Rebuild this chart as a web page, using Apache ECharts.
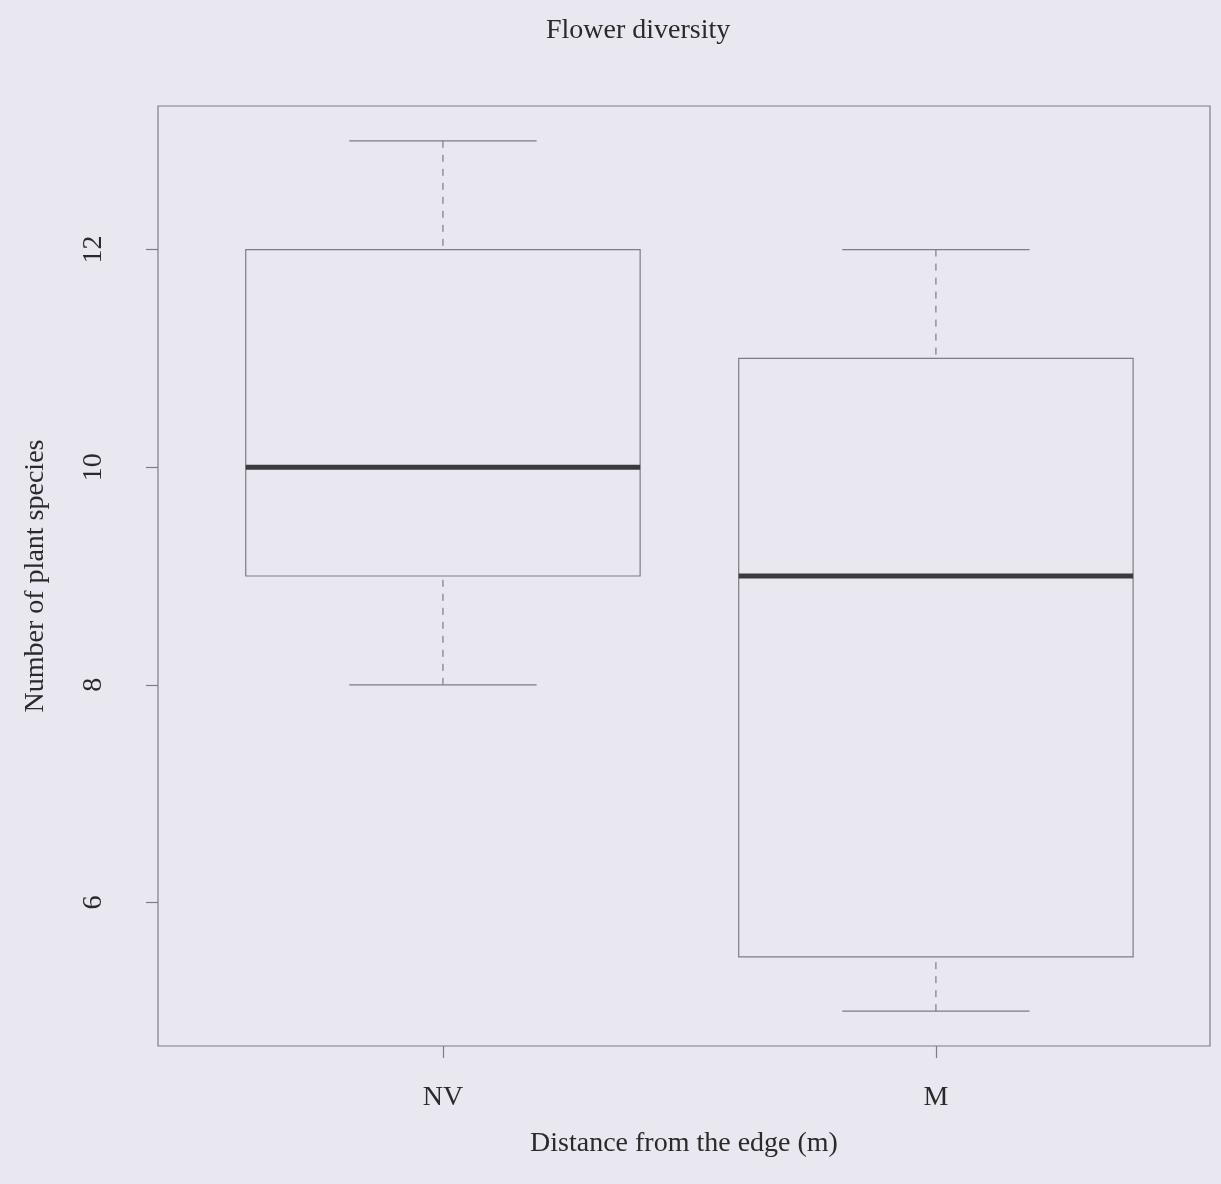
<!DOCTYPE html>
<html>
<head>
<meta charset="utf-8">
<script src="https://cdn.jsdelivr.net/npm/echarts@6/dist/echarts.min.js"></script>
<style>
  html, body { margin: 0; padding: 0; background: #e9e8f1; }
  #chart { width: 1221px; height: 1184px; }
</style>
</head>
<body>
<div id="chart"></div>
<script>
// Data
const categories = ['NV', 'M'];
const whiskerLow = [8, 5];
const q1 = [9, 5.5];
const median = [10, 9];
const q3 = [12, 11];
const whiskerHigh = [13, 12];
const yTicks = [6, 8, 10, 12];

const seriesData = categories.map((c, i) => [i + 1, whiskerLow[i], q1[i], median[i], q3[i], whiskerHigh[i]]);

const FONT = '"Liberation Serif", "DejaVu Serif", serif';
const LINE = '#7d7d85';
const TEXT = '#2a2a2a';
const BOX_HALF = 0.4;
const CAP_HALF = 0.19;

function renderItem(params, api) {
  const x = api.value(0);
  const lo = api.value(1), b1 = api.value(2), md = api.value(3), b3 = api.value(4), hi = api.value(5);
  const pL = api.coord([x - BOX_HALF, b3]);
  const pR = api.coord([x + BOX_HALF, b1]);
  const c = (v) => api.coord([x, v]);
  const capL = (v) => api.coord([x - CAP_HALF, v]);
  const capR = (v) => api.coord([x + CAP_HALF, v]);
  const thin = { stroke: LINE, lineWidth: 1.2, fill: null };
  const dashed = { stroke: LINE, lineWidth: 1.2, lineDash: [7, 7] };
  return {
    type: 'group',
    children: [
      { type: 'line', shape: { x1: c(hi)[0], y1: c(hi)[1], x2: c(b3)[0], y2: c(b3)[1] }, style: dashed },
      { type: 'line', shape: { x1: c(lo)[0], y1: c(lo)[1], x2: c(b1)[0], y2: c(b1)[1] }, style: dashed },
      { type: 'line', shape: { x1: capL(hi)[0], y1: capL(hi)[1], x2: capR(hi)[0], y2: capR(hi)[1] }, style: thin },
      { type: 'line', shape: { x1: capL(lo)[0], y1: capL(lo)[1], x2: capR(lo)[0], y2: capR(lo)[1] }, style: thin },
      { type: 'rect', shape: { x: pL[0], y: pL[1], width: pR[0] - pL[0], height: pR[1] - pL[1] }, style: { stroke: LINE, lineWidth: 1.2, fill: 'rgba(0,0,0,0)' } },
      { type: 'line', shape: { x1: api.coord([x - BOX_HALF, md])[0], y1: c(md)[1], x2: api.coord([x + BOX_HALF, md])[0], y2: c(md)[1] }, style: { stroke: '#3a3a3e', lineWidth: 5 } }
    ]
  };
}

const chart = echarts.init(document.getElementById('chart'), null, { renderer: 'canvas' });
chart.setOption({
  backgroundColor: '#e9e8f1',
  animation: false,
  title: {
    text: 'Flower diversity',
    left: 541,
    top: 12,
    textStyle: { fontFamily: FONT, fontSize: 28, fontWeight: 'normal', color: TEXT }
  },
  grid: {
    left: 158, right: 11, top: 106, bottom: 138,
    show: true, borderColor: LINE, borderWidth: 1.2, backgroundColor: 'transparent'
  },
  xAxis: {
    type: 'value',
    min: 0.422, max: 2.556,
    name: 'Distance from the edge (m)',
    nameLocation: 'middle',
    nameGap: 84,
    nameTextStyle: { fontFamily: FONT, fontSize: 28, color: TEXT },
    axisLine: { show: false },
    splitLine: { show: false },
    axisTick: { show: true, customValues: [1, 2], length: 12, lineStyle: { color: LINE, width: 1.2 } },
    axisLabel: {
      customValues: [1, 2],
      formatter: (v) => categories[Math.round(v) - 1] || '',
      margin: 38,
      fontFamily: FONT, fontSize: 28, color: TEXT
    }
  },
  yAxis: {
    type: 'value',
    min: 4.68, max: 13.32,
    name: 'Number of plant species',
    nameLocation: 'middle',
    nameGap: 108,
    nameRotate: 90,
    nameTextStyle: { fontFamily: FONT, fontSize: 28, color: TEXT },
    axisLine: { show: false },
    splitLine: { show: false },
    axisTick: { show: true, customValues: yTicks, length: 12, lineStyle: { color: LINE, width: 1.2 } },
    axisLabel: {
      customValues: yTicks,
      rotate: 90,
      margin: 50,
      fontFamily: FONT, fontSize: 28, color: TEXT
    }
  },
  series: [{
    type: 'custom',
    renderItem: renderItem,
    data: seriesData,
    encode: { x: 0, y: [1, 2, 3, 4, 5] },
    clip: false
  }]
});
</script>
</body>
</html>
